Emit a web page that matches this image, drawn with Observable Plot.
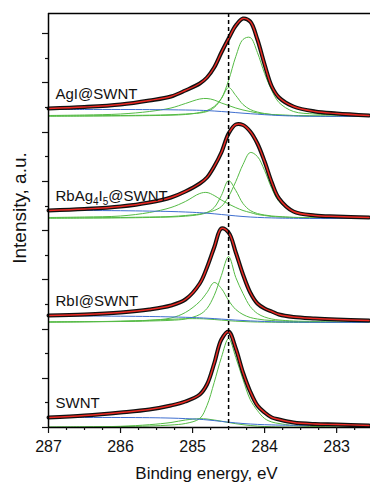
<!DOCTYPE html>
<html><head><meta charset="utf-8">
<script src="https://cdn.jsdelivr.net/npm/d3@7"></script>
<script src="https://cdn.jsdelivr.net/npm/@observablehq/plot@0.6"></script>
<style>body{margin:0;background:#fff}</style>
</head><body><div id="chart"></div>
<script>
// Binding energy sample positions (eV)
const energy = [287, 286.5, 286, 285.6, 285.3, 285.1, 284.9, 284.8, 284.7, 284.6, 284.5, 284.4, 284.3, 284.2, 284.1, 284.0, 283.9, 283.8, 283.6, 283.3, 283.0, 282.55];

const samples = ["AgI@SWNT", "RbAg₄I₅@SWNT", "RbI@SWNT", "SWNT"];
const offsets = [311, 209, 105, 0];

// AgI@SWNT
const agiFit = [8, 9.5, 12, 16, 20, 26, 33, 39, 49, 64, 78, 91, 98, 95, 77, 52, 30, 19, 10, 5, 3, 1];
const agiC1  = [0.5, 0.7, 1, 1.3, 1.8, 2.5, 3.5, 5, 9, 18, 36, 60, 77, 79, 64, 43, 26, 14, 5, 2.5, 1.5, 0.5];
const agiC2  = [0.3, 0.4, 0.6, 0.9, 1.3, 2, 4, 6, 10, 18, 29, 21, 12, 7, 4.5, 3, 2, 1.5, 1, 0.6, 0.4, 0.2];
const agiC3  = [1, 1.5, 2.5, 5, 8.5, 13, 17.5, 18, 16.5, 13.5, 11, 8.5, 6.5, 5, 3.5, 2.5, 2, 1.5, 1, 0.5, 0.3, 0.2];
const agiBg  = [7, 7, 7, 6.9, 6.7, 6.5, 6.2, 5.9, 5.5, 5, 4.5, 3.9, 3.3, 2.8, 2.3, 1.8, 1.4, 1, 0.5, 0.2, 0.1, 0];

// RbAg4I5@SWNT
const rbagFit = [8, 9.5, 12, 16, 21, 27, 35, 41, 52, 66, 85, 94, 93.5, 87, 75, 57, 36, 20, 7, 3, 2, 1];
const rbagC1  = [0.5, 0.7, 1, 1.5, 2, 3, 4.5, 6, 8, 12, 22, 37, 54, 66, 62, 48, 30, 17, 7, 3, 1.5, 0.5];
const rbagC2  = [0.3, 0.4, 0.6, 1, 1.5, 2.3, 4, 6, 11, 23, 38, 28, 15, 8, 5, 3.5, 2.5, 2, 1.2, 0.7, 0.4, 0.2];
const rbagC3  = [1, 1.5, 2.5, 6, 11, 17, 25, 26, 23, 18.5, 14.5, 11, 8, 6, 4, 3, 2, 1.5, 1, 0.5, 0.3, 0.2];
const rbagBg  = [8, 8, 7.8, 7.4, 7, 6.5, 5.8, 5.3, 4.7, 4, 3.3, 2.6, 2, 1.5, 1.1, 0.8, 0.6, 0.4, 0.2, 0, 0, 0];

// RbI@SWNT
const rbiFit = [7, 8, 10, 13, 17, 23, 39, 55, 75, 94, 90, 70, 48, 30, 19, 14, 11, 8, 5.5, 4, 3, 2];
const rbiC1  = [0.5, 0.7, 1, 1.5, 2.2, 3.5, 8, 14, 27, 47, 66, 45, 29, 16, 9, 5.5, 3.5, 2.5, 1.5, 1, 0.5, 0.3];
const rbiC2  = [0.5, 0.8, 1.2, 2.2, 4.5, 10, 21, 30, 40, 34, 22, 13, 8, 5, 3.5, 2.5, 2, 1.5, 1, 0.5, 0.3, 0.2];
const rbiC3  = [0.5, 0.8, 1.3, 2.2, 3.2, 3.8, 3.8, 3.5, 3, 2.4, 1.8, 1.3, 1, 0.7, 0.5, 0.4, 0.3, 0.2, 0.1, 0.1, 0, 0];
const rbiBg  = [6.5, 6.5, 6.3, 6, 5.6, 5.2, 4.7, 4.3, 3.9, 3.4, 2.9, 2.4, 2, 1.6, 1.3, 1, 0.8, 0.6, 0.4, 0.2, 0.1, 0];

// SWNT
const swntFit = [10, 12, 15, 18, 22, 26, 33, 43, 64, 88, 96, 79, 55, 36, 22, 15, 10, 8, 5, 3.5, 3, 2];
const swntC1  = [0.5, 0.7, 1, 1.5, 2.5, 4, 9, 22, 45, 70, 89, 70, 48, 28, 17, 9, 5.5, 4, 2, 1, 0.6, 0.3];
const swntC2  = [0.3, 0.6, 1.2, 2.8, 5, 7.5, 8.8, 8.5, 7.5, 6.3, 5, 3.8, 2.8, 2, 1.4, 1, 0.7, 0.5, 0.3, 0.1, 0, 0];
const swntBg  = [10, 10, 10, 9.8, 9.4, 8.9, 8.2, 7.6, 6.9, 6.1, 5.3, 4.6, 4, 3.5, 3.1, 2.8, 2.6, 2.4, 2.2, 2, 2, 2];

const fits = [agiFit, rbagFit, rbiFit, swntFit];
const components = [[agiC1, agiC2, agiC3], [rbagC1, rbagC2, rbagC3], [rbiC1, rbiC2, rbiC3], [swntC1, swntC2]];
const backgrounds = [agiBg, rbagBg, rbiBg, swntBg];

const refEnergy = [284.5];
const xTicks = [287, 286, 285, 284, 283];
const xMinor = [286.75, 286.5, 286.25, 285.75, 285.5, 285.25, 284.75, 284.5, 284.25, 283.75, 283.5, 283.25, 282.75];
const yMajor = [0, 49, 98, 148, 197, 246, 295, 345, 394];
const yMinor = [25, 74, 123, 172, 221, 271, 320, 369];

function rows(vals, i, key) {
  return energy.map((e, j) => ({e, v: offsets[i] + vals[j], key}));
}
const fitRows = fits.flatMap((f, i) => rows(f, i, "fit" + i));
const compRows = components.flatMap((cs, i) => cs.flatMap((c, k) => rows(c, i, "c" + i + "_" + k)));
const bgRows = backgrounds.flatMap((b, i) => rows(b, i, "bg" + i));
const labelRows = samples.map((s, i) => ({e: energy[0], v: offsets[i] + fits[i][0], label: s}));

const plot = Plot.plot({
  width: 370, height: 484,
  marginLeft: 48, marginRight: 0, marginTop: 13, marginBottom: 57,
  style: {fontFamily: "'Liberation Sans', Arial, sans-serif", background: "white", color: "#111"},
  x: {domain: [287, 282.53], label: null},
  y: {domain: [0, 414], label: null},
  marks: [
    Plot.line(compRows, {x: "e", y: "v", z: "key", stroke: "#55bb45", strokeWidth: 1, curve: "catmull-rom"}),
    Plot.line(bgRows, {x: "e", y: "v", z: "key", stroke: "#3f6fd0", strokeWidth: 1, curve: "catmull-rom"}),
    Plot.line(fitRows, {x: "e", y: "v", z: "key", stroke: "#111", strokeWidth: 4, curve: "catmull-rom"}),
    Plot.line(fitRows, {x: "e", y: "v", z: "key", stroke: "#ec2a24", strokeWidth: 1.4, curve: "catmull-rom"}),
    Plot.ruleX(refEnergy, {stroke: "#000", strokeWidth: 1.5, strokeDasharray: "4,3"}),
    Plot.ruleX([287], {stroke: "#000", strokeWidth: 1.5}),
    Plot.ruleY([0], {stroke: "#000", strokeWidth: 1.5}),
    Plot.ruleY([414], {stroke: "#000", strokeWidth: 1.5}),
    Plot.axisX(xTicks, {tickSize: 6, tickPadding: 7, fontSize: 16, tickFormat: d => String(d), label: null, strokeWidth: 1.2}),
    Plot.axisX(xMinor, {tickSize: 3, tickFormat: () => "", label: null, strokeWidth: 1.2}),
    Plot.axisY(yMajor, {tickSize: 6, tickFormat: () => "", label: null, strokeWidth: 1.2}),
    Plot.axisY(yMinor, {tickSize: 3, tickFormat: () => "", label: null, strokeWidth: 1.2}),
    Plot.text(labelRows, {x: "e", y: "v", text: "label", textAnchor: "start", lineAnchor: "bottom", dx: 7, dy: -10, fontSize: 15, fill: "#111"}),
    Plot.text(["Intensity, a.u."], {frameAnchor: "left", textAnchor: "middle", lineAnchor: "middle", rotate: -90, dx: -28.5, dy: -12.5, fontSize: 19, fill: "#111"}),
    Plot.text(["Binding energy, eV"], {frameAnchor: "bottom", textAnchor: "middle", lineAnchor: "bottom", dx: -3, dy: 51, fontSize: 17, fill: "#111"})
  ]
});

// Render Unicode subscript digits as real subscript tspans
const SVGNS = "http://www.w3.org/2000/svg";
plot.querySelectorAll("text").forEach(t => {
  const s = t.textContent;
  if (!/[\u2080-\u2089]/.test(s) || t.children.length) return;
  t.textContent = "";
  let inSub = false;
  for (const part of s.match(/[\u2080-\u2089]+|[^\u2080-\u2089]+/g)) {
    const ts = document.createElementNS(SVGNS, "tspan");
    const sub = /[\u2080-\u2089]/.test(part);
    if (sub) {
      ts.textContent = [...part].map(c => String(c.charCodeAt(0) - 0x2080)).join("");
      ts.setAttribute("font-size", "10");
      ts.setAttribute("dy", "4");
      inSub = true;
    } else {
      ts.textContent = part;
      if (inSub) ts.setAttribute("dy", "-4");
      inSub = false;
    }
    t.appendChild(ts);
  }
});

document.getElementById("chart").appendChild(plot);
</script>
</body></html>
